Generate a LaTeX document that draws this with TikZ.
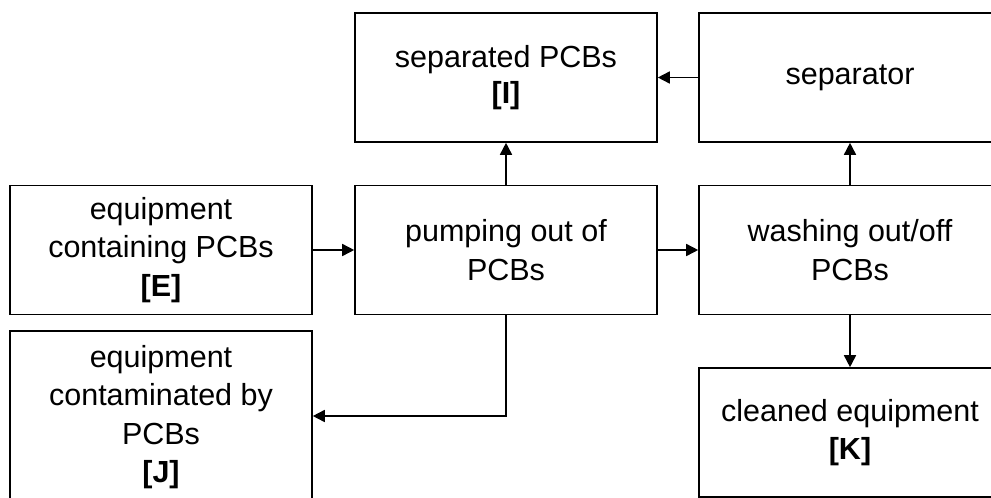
\documentclass[tikz,border=0pt]{standalone}
\usepackage{fontspec}
\setmainfont{Liberation Sans}
\usetikzlibrary{arrows.meta}
\tikzset{
  box/.style={draw=black, line width=1.6pt, minimum width=302pt, minimum height=129pt, inner sep=0pt, align=center, font=\fontsize{30.5}{38.5}\selectfont},
  flow/.style={line width=1.6pt, -{Triangle[length=12pt,width=12pt]}}
}
\begin{document}
\begin{tikzpicture}[x=1pt,y=-1pt]
\useasboundingbox (0,0) rectangle (991,498);
\clip (0,0) rectangle (991,498);
\node[box] (I) at (506,77.5) {\raisebox{-4pt}{\shortstack{separated PCBs\\[4pt]\textbf{[I]}}}};
\node[box] (S) at (850,77.5) {\raisebox{-3pt}{separator}};
\node[box] (E) at (161,250) {equipment\\containing PCBs\\\textbf{[E]}};
\node[box] (P) at (506,250) {pumping out of\\PCBs};
\node[box] (W) at (850,250) {washing out/off\\PCBs};
\node[box, minimum height=172pt] (J) at (161,417) {equipment\\contaminated by\\PCBs\\\textbf{[J]}};
\node[box] (K) at (850,432.5) {cleaned equipment\\\textbf{[K]}};
\coordinate (bend) at (P.south |- 0,416);
\draw[flow] (E) -- (P);
\draw[flow] (P) -- (I);
\draw[flow] (S) -- (I);
\draw[flow] (P) -- (W);
\draw[flow] (W) -- (S);
\draw[flow] (W) -- (K);
\draw[flow] (P.south) -- (bend) -- (J.east |- bend);
\end{tikzpicture}
\end{document}
